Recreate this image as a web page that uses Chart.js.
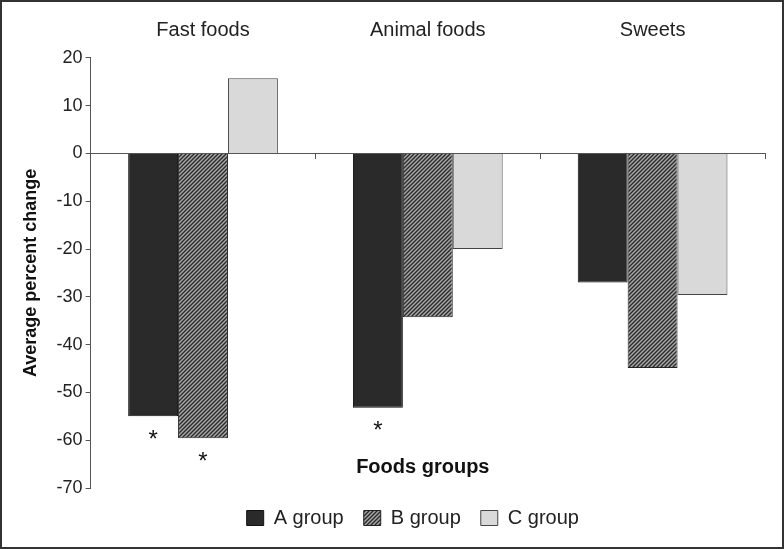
<!DOCTYPE html>
<html>
<head>
<meta charset="utf-8">
<script src="https://cdn.jsdelivr.net/npm/chart.js@4"></script>
<style>
  body { margin: 0; background: #fff; }
  #wrap { width: 784px; height: 549px; box-sizing: border-box; border: 2px solid #333; position: relative; overflow: hidden; }
  canvas { display: block; }
</style>
</head>
<body>
<div id="wrap"><canvas id="chart" width="780" height="545"></canvas></div>
<script>
const categories = ["Fast foods", "Animal foods", "Sweets"]
const groupA = [-55, -53.2, -27]
const groupB = [-59.6, -34.3, -44.9]
const groupC = [15.7, -20, -29.6]
// significance markers (*) under bars
const starsA = [true, true, false]
const starsB = [true, false, false]
const starsC = [false, false, false]

const FONT = "'Liberation Sans', Arial, sans-serif"

window.addEventListener("load", () => {
    // diagonal hatch for B group
    const pc = document.createElement("canvas")
    pc.width = 4
    pc.height = 4
    const p = pc.getContext("2d")
    p.fillStyle = "#a8a8a8"
    p.fillRect(0, 0, 4, 4)
    p.strokeStyle = "#2b2b2b"
    p.lineWidth = 1.4
    p.beginPath()
    p.moveTo(0, 4); p.lineTo(4, 0)
    p.moveTo(-1, 1); p.lineTo(1, -1)
    p.moveTo(3, 5); p.lineTo(5, 3)
    p.stroke()
    const hatch = document.getElementById("chart").getContext("2d").createPattern(pc, "repeat")

    const stars = [starsA, starsB, starsC]

    // asterisks under significant bars + x axis title
    const extras = {
        id: "extras",
        afterLayout(chart) {
            // legend sits a bit left of the plot centre in the original
            const lg = chart.legend
            lg.left -= 15
            lg.right -= 15
        },
        afterDatasetsDraw(chart) {
            const { ctx, chartArea } = chart
            ctx.save()
            ctx.fillStyle = "#111"
            ctx.textAlign = "center"
            ctx.textBaseline = "middle"
            ctx.font = "24px " + FONT
            stars.forEach((flags, i) => {
                const meta = chart.getDatasetMeta(i)
                flags.forEach((on, j) => {
                    if (!on) return
                    const bar = meta.data[j]
                    ctx.fillText("*", bar.x, bar.y + 24)
                })
            })
            ctx.font = "bold 20px " + FONT
            ctx.fillText("Foods groups", (chartArea.left + chartArea.right) / 2 - 5, chartArea.bottom - 21)
            ctx.restore()
        }
    }

    new Chart(document.getElementById("chart"), {
        type: "bar",
        data: {
            labels: categories,
            datasets: [
                { label: "A group", data: groupA, backgroundColor: "#2a2a2a", borderColor: "#111", borderWidth: 1 },
                { label: "B group", data: groupB, backgroundColor: hatch, borderColor: "#222", borderWidth: 1 },
                { label: "C group", data: groupC, backgroundColor: "#d9d9d9", borderColor: "#444", borderWidth: 1 }
            ]
        },
        options: {
            responsive: false,
            animation: false,
            events: [],
            datasets: { bar: { categoryPercentage: 0.666, barPercentage: 1 } },
            layout: { padding: { top: 8.6, left: 8, right: 17, bottom: 9 } },
            scales: {
                x: {
                    position: "top",
                    grid: { display: false },
                    border: { display: false },
                    ticks: { color: "#222", padding: 7.6, font: { family: FONT, size: 20 } }
                },
                x2: {
                    type: "category",
                    labels: categories,
                    position: { y: 0 },
                    grid: { display: true, drawOnChartArea: false, drawTicks: true, tickLength: 5, color: "#555", offset: true },
                    border: { display: true, color: "#555", width: 1 },
                    ticks: { display: false }
                },
                y: {
                    min: -70,
                    max: 20,
                    grid: { display: true, drawOnChartArea: false, tickLength: 5, color: "#555" },
                    border: { color: "#555", width: 1 },
                    ticks: { stepSize: 10, color: "#222", padding: 3, font: { family: FONT, size: 18 } },
                    title: {
                        display: true,
                        text: "Average percent change",
                        color: "#111",
                        font: { family: FONT, size: 18, weight: "bold" },
                        padding: { top: 10, bottom: 12 }
                    }
                }
            },
            plugins: {
                legend: {
                    position: "bottom",
                    fullSize: false,
                    labels: {
                        color: "#222",
                        boxWidth: 17,
                        boxHeight: 15,
                        padding: 20,
                        font: { family: FONT, size: 20 }
                    }
                },
                tooltip: { enabled: false }
            }
        },
        plugins: [extras]
    })
})
</script>
</body>
</html>
